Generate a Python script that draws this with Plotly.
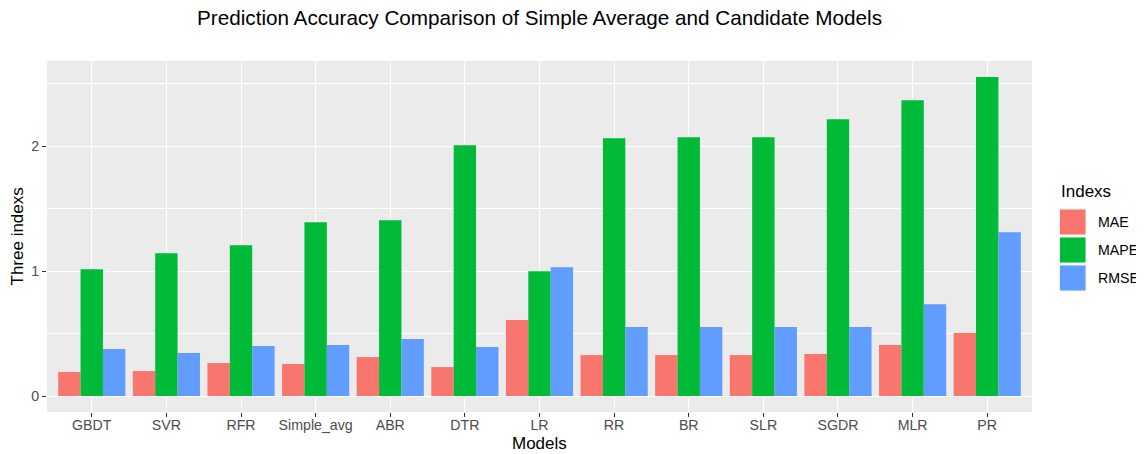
import plotly.graph_objects as go

models = ["GBDT", "SVR", "RFR", "Simple_avg", "ABR", "DTR", "LR", "RR", "BR", "SLR", "SGDR", "MLR", "PR"]
mae = [0.192, 0.200, 0.264, 0.256, 0.312, 0.232, 0.608, 0.328, 0.328, 0.328, 0.336, 0.408, 0.504]
mape = [1.016, 1.144, 1.208, 1.392, 1.408, 2.008, 1.000, 2.064, 2.072, 2.072, 2.216, 2.368, 2.555]
rmse = [0.376, 0.344, 0.400, 0.408, 0.456, 0.392, 1.032, 0.552, 0.552, 0.552, 0.552, 0.736, 1.312]
series_names = ["MAE", "MAPE", "RMSE"]
series_colors = ["#F8766D", "#00BA38", "#619CFF"]
series_values = [mae, mape, rmse]

# page body has an 8px margin; lay out in figure coordinates = screen - 8
OFF = 8
W, H = 1144 - OFF, 454 - OFF
PX0, PX1, PY0, PY1 = 47 - OFF, 1032 - OFF, 61 - OFF, 412 - OFF  # panel box
L, R, T, B = PX0, W - PX1, PY0, H - PY1
FONT = "Liberation Sans, Arial, Helvetica, sans-serif"
TICK = 14.2

fig = go.Figure()
for name, color, vals in zip(series_names, series_colors, series_values):
    fig.add_trace(go.Bar(x=models, y=vals, name=name, marker=dict(color=color, line=dict(width=0)),
                         showlegend=False))

ymax = max(max(v) for v in series_values)
yr = [-0.05 * ymax, 1.05 * ymax]

fig.update_layout(
    width=W, height=H,
    margin=dict(l=L, r=R, t=T, b=B, pad=0, autoexpand=False),
    paper_bgcolor="white", plot_bgcolor="#EBEBEB",
    barmode="group", bargap=0.1, bargroupgap=0,
    font=dict(family=FONT, color="black"),
    title=dict(text="Prediction Accuracy Comparison of Simple Average and Candidate Models",
               x=((PX0 + PX1) / 2) / W, xanchor="center", y=1 - (18 - OFF) / H, yanchor="middle",
               font=dict(size=20.7, color="black")),
    xaxis=dict(
        range=[-0.6, len(models) - 0.4], showgrid=True, gridcolor="white", gridwidth=1.1,
        ticks="outside", ticklen=4, tickwidth=1.1, tickcolor="#333333", ticklabelstandoff=-4,
        tickfont=dict(size=TICK, color="#4D4D4D"), showline=False, zeroline=False, automargin=False,
    ),
    yaxis=dict(
        range=yr, tickvals=[0, 1, 2], showgrid=True, gridcolor="white", gridwidth=1.1,
        ticks="outside", ticklen=4, tickwidth=1.1, tickcolor="#333333",
        tickfont=dict(size=TICK, color="#4D4D4D"), showline=False, zeroline=False, automargin=False,
        minor=dict(tickvals=[0.5, 1.5, 2.5], showgrid=True, gridcolor="white", gridwidth=0.55, ticks=""),
    ),
)

pw = PX1 - PX0
ph = PY1 - PY0
def px_x(x):
    return (x - OFF - PX0) / pw
def px_y(y):
    return (PY1 - (y - OFF)) / ph

shapes = []
annotations = []
annotations.append(dict(text="Models", x=px_x((47 + 1032) / 2), y=px_y(443), xref="paper", yref="paper",
                        xanchor="center", yanchor="middle", showarrow=False,
                        font=dict(size=17, color="black")))
annotations.append(dict(text="Three indexs", x=px_x(17), y=px_y((61 + 412) / 2), xref="paper", yref="paper",
                        xanchor="center", yanchor="middle", showarrow=False, textangle=-90,
                        font=dict(size=17, color="black")))
annotations.append(dict(text="Indexs", x=px_x(1059), y=px_y(191), xref="paper", yref="paper",
                        xanchor="left", yanchor="middle", showarrow=False,
                        font=dict(size=17, color="black")))
key0, keyh, keygap = 209, 26, 2
for i, (name, color) in enumerate(zip(series_names, series_colors)):
    y0 = key0 + i * (keyh + keygap)
    shapes.append(dict(type="rect", xref="paper", yref="paper",
                       x0=px_x(1059.5), x1=px_x(1086), y0=px_y(y0), y1=px_y(y0 + keyh),
                       fillcolor=color, line=dict(color="#F2F2F2", width=1)))
    annotations.append(dict(text=name, x=px_x(1096), y=px_y(y0 + keyh / 2), xref="paper", yref="paper",
                            xanchor="left", yanchor="middle", showarrow=False,
                            font=dict(size=TICK, color="black")))
fig.update_layout(shapes=shapes, annotations=annotations)

fig.write_html("out.html")
